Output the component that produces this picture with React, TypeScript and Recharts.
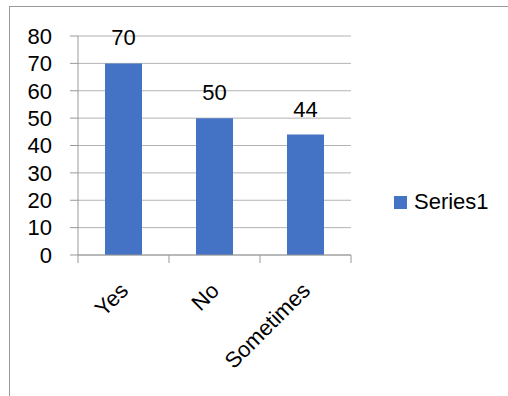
import { BarChart, Bar, XAxis, YAxis, CartesianGrid, LabelList } from "recharts";

const categories = ["Yes", "No", "Sometimes"];
const series1 = [70, 50, 44];
const yTicks = [0, 10, 20, 30, 40, 50, 60, 70, 80];
const seriesName = "Series1";

const data = categories.map((c, i) => ({ name: c, value: series1[i] }));

const FONT = "'Liberation Sans', Arial, sans-serif";
const FONT_SIZE = 22;
const BLUE = "#4472C4";
const AXIS = "#999999";
const GRID = "#b3b3b3";

// tick marks go on the category boundaries, labels slanted under the centre
function CategoryTick(props: any) {
  const { x, y, payload, index, visibleTicksCount } = props;
  const half = payload?.offset ?? 0;
  const top = y - 8;
  const ax = x + 6;
  const ay = y + 29;
  return (
    <g>
      <line x1={x - half} x2={x - half} y1={top} y2={top + 8} stroke={AXIS} />
      {index === visibleTicksCount - 1 && (
        <line x1={x + half} x2={x + half} y1={top} y2={top + 8} stroke={AXIS} />
      )}
      <text
        x={ax}
        y={ay}
        transform={`rotate(-45 ${ax} ${ay})`}
        textAnchor="end"
        fontSize={FONT_SIZE}
        fontFamily={FONT}
        fill="#000"
      >
        {payload.value}
      </text>
    </g>
  );
}

export default function App() {
  return (
    <div style={{ position: "absolute", left: 0, top: 0, width: 508, height: 396, background: "#fff" }}>
      <div
        style={{
          position: "absolute",
          left: 9,
          top: 6,
          right: 0,
          bottom: 0,
          borderTop: `1px solid ${AXIS}`,
          borderLeft: `1px solid ${AXIS}`,
        }}
      />
      <div style={{ position: "absolute", left: 0, top: 0 }}>
        <BarChart
          width={508}
          height={396}
          data={data}
          margin={{ top: 36, right: 157, bottom: 41, left: 18 }}
        >
          <CartesianGrid vertical={false} stroke={GRID} />
          <XAxis
            dataKey="name"
            height={100}
            stroke={AXIS}
            tickLine={false}
            tickSize={8}
            tickMargin={0}
            tick={<CategoryTick />}
            interval={0}
          />
          <YAxis
            width={60}
            domain={[0, 80]}
            ticks={yTicks}
            interval={0}
            stroke={AXIS}
            tickSize={8}
            tickMargin={18}
            tick={{ fontSize: FONT_SIZE, fontFamily: FONT, fill: "#000" }}
          />
          <Bar dataKey="value" name={seriesName} fill={BLUE} barSize={37} isAnimationActive={false}>
            <LabelList
              dataKey="value"
              position="top"
              offset={18}
              fontSize={FONT_SIZE}
              fontFamily={FONT}
              fill="#000"
            />
          </Bar>
        </BarChart>
      </div>
      <div
        style={{
          position: "absolute",
          left: 394,
          top: 189,
          display: "flex",
          alignItems: "center",
          fontFamily: FONT,
          fontSize: FONT_SIZE,
          color: "#000",
        }}
      >
        <span style={{ width: 13, height: 13, background: BLUE, marginRight: 7, display: "inline-block" }} />
        {seriesName}
      </div>
    </div>
  );
}
